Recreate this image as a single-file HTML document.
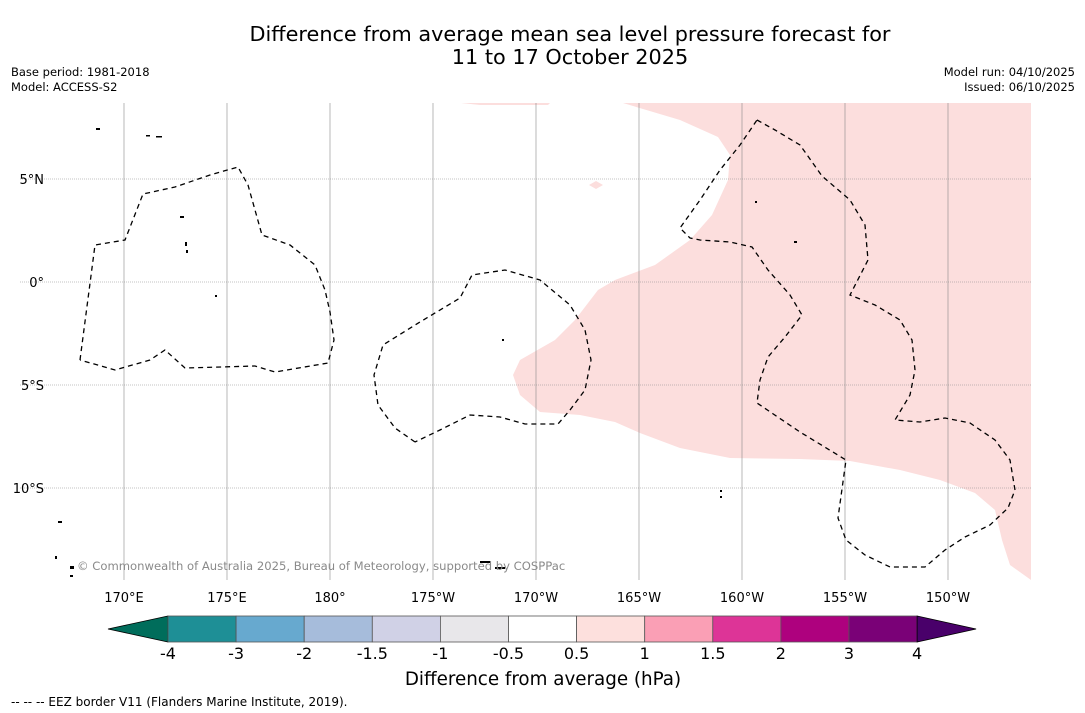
<!DOCTYPE html>
<html><head><meta charset="utf-8"><style>
body{margin:0;background:#fff;width:1085px;height:713px;overflow:hidden;font-family:"DejaVu Sans","Liberation Sans",sans-serif}
svg{display:block}
</style></head><body>
<svg width="1085" height="713" viewBox="0 0 1085 713">
<text x="570" y="41" font-size="20.8" text-anchor="middle">Difference from average mean sea level pressure forecast for</text>
<text x="570" y="64" font-size="20.8" text-anchor="middle">11 to 17 October 2025</text>
<text x="11" y="76" font-size="11.5">Base period: 1981-2018</text>
<text x="11" y="91" font-size="11.5">Model: ACCESS-S2</text>
<text x="1075" y="76" font-size="11.5" text-anchor="end">Model run: 04/10/2025</text>
<text x="1075" y="91" font-size="11.5" text-anchor="end">Issued: 06/10/2025</text>
<g id="map">
<polygon fill="#fcdedd" points="623,103 1031,103 1031,580 1010,565 1002,540 995,510 975,493 940,480 900,470 850,461 800,459 730,458 680,448 640,433 615,422 580,415 540,412 520,395 513,375 520,360 555,340 575,320 598,290 615,280 655,265 690,240 712,215 728,180 730,155 718,137 680,120"/>
<polygon fill="#fcdedd" points="461,103 550,103 548,105 480,105"/>
<polygon fill="#fcdedd" points="589,185 596,181 603,185 596,189"/>
<g id="grid" stroke="#888" stroke-width="0.6"></g>
<g fill="none" stroke="#000" stroke-width="1.3" stroke-dasharray="5,4">
<polyline points="80,360 95,245 125,240 143,194 175,187 210,175 238,167 248,185 262,235 290,245 315,265 325,290 330,312 334,340 328,363 275,372 255,366 185,368 165,350 150,360 115,370 80,360"/>
<polyline points="415,442 395,428 378,405 374,375 383,345 420,322 460,298 472,275 505,270 540,280 570,305 585,330 591,360 585,390 570,410 558,424 525,424 500,417 470,415 440,430 415,442"/>
<polyline points="757,120 775,130 800,145 822,176 850,200 865,225 868,260 850,295 875,305 900,320 912,340 915,370 910,395 895,420 920,422 945,418 970,423 995,440 1010,460 1015,490 1008,508 990,525 965,537 945,550 925,567 890,567 865,555 846,540 838,518 846,460 800,432 757,403 760,380 768,357 785,337 802,315 790,295 768,270 752,247 730,242 700,240 690,238 680,228 700,200 720,170 740,145 757,120"/>
</g>
<g fill="#000">
<rect x="146" y="135" width="4" height="1.5"/><rect x="156" y="136" width="6" height="1.5"/><rect x="185" y="242" width="2" height="4"/><rect x="186" y="250" width="2" height="3"/><rect x="215" y="295" width="2" height="2"/><rect x="502" y="339" width="2" height="2"/><rect x="755" y="201" width="2" height="2"/><rect x="794" y="241" width="3" height="2"/><rect x="480" y="561" width="10" height="2"/><rect x="495" y="567" width="10" height="2"/><rect x="58" y="521" width="4" height="2"/><rect x="720" y="490" width="2" height="2"/><rect x="720" y="496" width="2" height="2"/><rect x="180" y="216" width="4" height="2"/><rect x="96" y="128" width="4" height="2"/><rect x="70" y="566" width="4" height="3"/><rect x="70" y="575" width="3" height="2"/><rect x="55" y="556" width="2" height="3"/>
</g>
</g>
<g id="axislabels" font-size="13"></g>
<text x="77" y="570" font-size="11.6" fill="#8a8a8a">© Commonwealth of Australia 2025, Bureau of Meteorology, supported by COSPPac</text>
<g id="cbar"></g>
<text x="543" y="685" font-size="18.3" text-anchor="middle">Difference from average (hPa)</text>
<text x="11" y="706" font-size="12">--  --  -- EEZ border V11 (Flanders Marine Institute, 2019).</text>
</svg>
<script>
const lonLabels=["170°E","175°E","180°","175°W","170°W","165°W","160°W","155°W","150°W"];
const latLabels=["5°N","0°","5°S","10°S"];
const cbTicks=["-4","-3","-2","-1.5","-1","-0.5","0.5","1","1.5","2","3","4"];
const cbColors=["#1e8f96","#67a9cf","#a6bcdb","#d0d1e6","#e8e7ea","#ffffff","#fde0dd","#fa9fb5","#dd3497","#ae017e","#7a0177"];
const NS="http://www.w3.org/2000/svg";
function mk(t,a,p){const e=document.createElementNS(NS,t);for(const k in a)e.setAttribute(k,a[k]);p.appendChild(e);return e;}
const grid=document.getElementById('grid'),al=document.getElementById('axislabels'),cb=document.getElementById('cbar');
function lonX(i){return 124+i*103;}
function latY(i){return 179+i*103;}
lonLabels.forEach((l,i)=>{
 const ln=mk('line',{x1:lonX(i),x2:lonX(i),y1:103,y2:580},grid);
 
 
 const t=mk('text',{x:lonX(i),y:602,'text-anchor':'middle'},al);t.textContent=l;
 
 
});
latLabels.forEach((l,i)=>{
 const ln=mk('line',{x1:20,x2:1031,y1:latY(i),y2:latY(i),'stroke-dasharray':'1,1'},grid);
 
 
 const t=mk('text',{x:44,y:latY(i)+5,'text-anchor':'end'},al);t.textContent=l;
 
 
});
const x0=168,w=68.1,y0=616,h=26;
const lt=mk('polygon',{points:`108,${y0+h/2} ${x0},${y0} ${x0},${y0+h}`,fill:'#006d5b',stroke:'#000','stroke-width':0.8},cb);


cbColors.forEach((c,i)=>{
 const r=mk('rect',{x:x0+i*w,y:y0,width:w,height:h,fill:c,stroke:'#555','stroke-width':0.8},cb);
 
 
});
const xe=x0+cbColors.length*w;
const rt=mk('polygon',{points:`${xe},${y0} ${xe+59},${y0+h/2} ${xe},${y0+h}`,fill:'#49006a',stroke:'#000','stroke-width':0.8},cb);


cbTicks.forEach((l,i)=>{
 const t=mk('text',{x:x0+i*w,y:659,'text-anchor':'middle','font-size':16},cb);t.textContent=l;
 
 
});
</script>
</body></html>
